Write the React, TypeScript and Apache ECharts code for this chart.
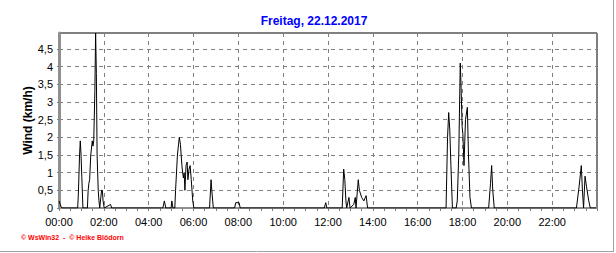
import React, { useEffect, useRef } from "react";
import * as echarts from "echarts";

const titleText = "Freitag, 22.12.2017";
const yAxisName = "Wind (km/h)";
const footerText = "© WsWin32  -  © Heike Blödorn";

const times = [
  "00:00", "00:05", "00:08", "00:50", "00:52", "00:55", "00:57", "00:59", "01:01", "01:04",
  "01:16", "01:18", "01:20", "01:22", "01:25", "01:29", "01:31", "01:33", "01:36", "01:38",
  "01:40", "01:42", "01:45", "01:47", "01:49", "01:52", "01:54", "01:56", "01:58", "02:01",
  "02:18", "02:21", "04:38", "04:42", "04:46", "05:00", "05:02", "05:05", "05:10", "05:12",
  "05:17", "05:22", "05:25", "05:29", "05:31", "05:33", "05:35", "05:37", "05:40", "05:43",
  "05:45", "05:48", "05:51", "05:54", "05:58", "06:01", "06:43", "06:47", "06:49", "06:53",
  "07:50", "07:53", "08:02", "08:05", "11:50", "11:54", "11:57", "12:38", "12:42", "12:45",
  "12:48", "12:50", "12:56", "12:59", "13:09", "13:13", "13:15", "13:21", "13:24", "13:30",
  "13:36", "13:42", "13:46", "17:16", "17:20", "17:23", "17:26", "17:29", "17:33", "17:43",
  "17:46", "17:50", "17:54", "17:56", "17:59", "18:01", "18:04", "18:08", "18:13", "18:16",
  "18:20", "18:24", "19:10", "19:15", "19:18", "19:21", "19:25", "23:05", "23:12", "23:18",
  "23:21", "23:24", "23:28", "23:32", "23:38", "23:42", "23:58",
];
const wind = [
  0.2, 0.05, 0, 0, 0.45, 1.5, 1.9, 1.5, 0.9, 0,
  0, 0.5, 0.7, 0.8, 1.5, 1.9, 1.75, 1.9, 3.3, 4.95,
  3.8, 1.5, 0.5, 0.2, 0, 0.3, 0.5, 0.5, 0.2, 0,
  0.1, 0, 0, 0.2, 0, 0, 0.2, 0, 0, 0.5,
  1.5, 2.0, 1.8, 1.2, 1.0, 0.85, 1.0, 0.5, 1.2, 1.3,
  0.8, 1.1, 1.2, 0.8, 0.2, 0, 0, 0.8, 0.5, 0,
  0, 0.15, 0.15, 0, 0, 0.15, 0, 0, 1.1, 0.8,
  0.2, 0, 0.3, 0, 0.1, 0.3, 0, 0.8, 0.5, 0.3,
  0.2, 0.35, 0, 0, 2.0, 2.7, 2.2, 1.2, 0, 0,
  0.2, 1.5, 4.1, 3.5, 2.3, 2.1, 1.2, 2.5, 2.85, 1.5,
  0.3, 0, 0, 0.7, 1.2, 0.5, 0, 0, 0.6, 1.2,
  0.5, 0, 0.9, 0.6, 0.2, 0, 0,
];

const toMinutes = (t: string) => {
  const [h, m] = t.split(":").map(Number);
  return h * 60 + m;
};
const pad = (n: number) => (n < 10 ? "0" + n : "" + n);

export default function App() {
  const ref = useRef<HTMLDivElement>(null);
  useEffect(() => {
    if (!ref.current) return;
    const chart = echarts.init(ref.current, null, { renderer: "svg" });
    const data = times.map((t, i) => [toMinutes(t), wind[i]]);
    chart.setOption({
      animation: false,
      backgroundColor: "#ffffff",
      title: {
        text: titleText,
        left: 309,
        textAlign: "center",
        top: 10,
        textStyle: { color: "#0000ff", fontSize: 12, fontWeight: "bold", fontFamily: "Liberation Sans, Arial, sans-serif" },
      },
      grid: {
        left: 59,
        top: 33,
        right: 19,
        bottom: 45,
        show: true,
        borderColor: "#000000",
        borderWidth: 1,
        backgroundColor: "transparent",
      },
      xAxis: {
        type: "value",
        min: 0,
        max: 1440,
        interval: 120,
        offset: 2,
        axisLine: { show: true, lineStyle: { color: "#909090", width: 2 } },
        axisTick: { show: true, length: 3, lineStyle: { color: "#808080" } },
        minorTick: { show: true, splitNumber: 4, length: 3, lineStyle: { color: "#808080" } },
        axisLabel: {
          color: "#000000",
          fontSize: 11,
          fontFamily: "Liberation Sans, Arial, sans-serif",
          margin: 6,
          formatter: (v: number) => (v >= 1440 ? "" : pad(Math.floor(v / 60)) + ":" + pad(v % 60)),
        },
        splitLine: { show: true, lineStyle: { color: "#808080", type: [4, 4], width: 1 } },
      },
      yAxis: {
        type: "value",
        min: 0,
        max: 4.95,
        interval: 0.5,
        offset: 1,
        name: yAxisName,
        nameLocation: "middle",
        nameGap: 24,
        nameRotate: 90,
        nameMoveOverlap: false,
        nameTextStyle: { color: "#000000", fontSize: 12, fontWeight: "bold", fontFamily: "Liberation Sans, Arial, sans-serif" },
        axisLine: { show: true, lineStyle: { color: "#909090", width: 3 } },
        axisTick: { show: true, length: 2, lineStyle: { color: "#808080" } },
        axisLabel: {
          color: "#000000",
          fontSize: 11,
          fontFamily: "Liberation Sans, Arial, sans-serif",
          margin: 5,
          showMaxLabel: false,
          formatter: (v: number) => String(v).replace(".", ","),
        },
        splitLine: { show: true, lineStyle: { color: "#808080", type: [4, 4], width: 1 } },
      },
      series: [
        {
          type: "line",
          data,
          showSymbol: false,
          symbol: "none",
          lineStyle: { color: "#000000", width: 1 },
          z: 5,
        },
      ],
      graphic: [
        {
          type: "text",
          left: 21,
          top: 234,
          style: {
            text: footerText,
            fill: "#ff0000",
            fontSize: 7,
            fontWeight: "bold",
            fontFamily: "Liberation Sans, Arial, sans-serif",
          },
        },
        {
          type: "line",
          shape: { x1: 613.5, y1: 0, x2: 613.5, y2: 251.5 },
          style: { stroke: "#a0a0a0", lineWidth: 1 },
        },
        {
          type: "line",
          shape: { x1: 0, y1: 251.5, x2: 614, y2: 251.5 },
          style: { stroke: "#a0a0a0", lineWidth: 1 },
        },
      ],
    });
    return () => chart.dispose();
  }, []);
  return (
    <div
      ref={ref}
      style={{ position: "fixed", left: 0, top: 0, width: 616, height: 253 }}
    />
  );
}
